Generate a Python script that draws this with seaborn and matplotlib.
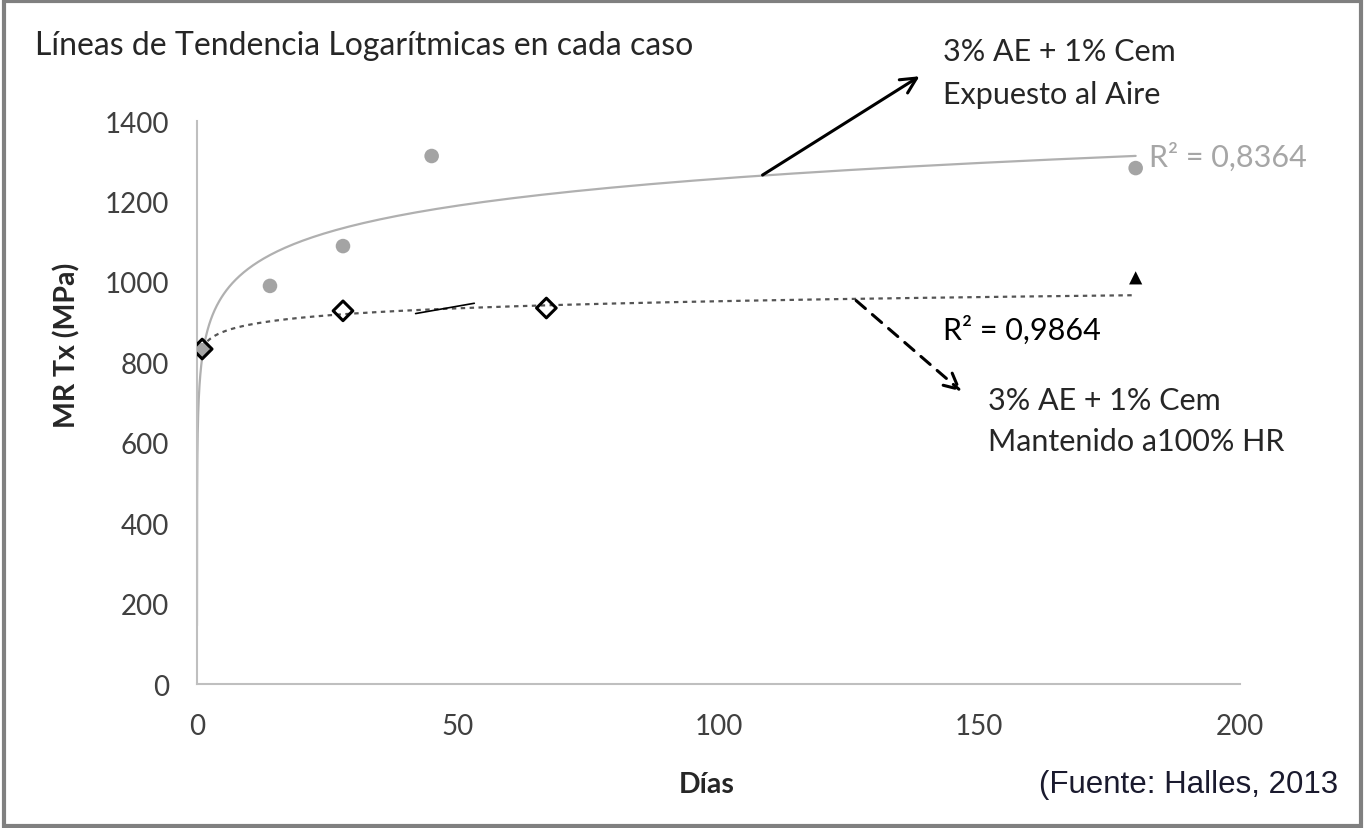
import numpy as np
import pandas as pd
import seaborn as sns
import matplotlib.pyplot as plt
from matplotlib.patches import Rectangle

# air-exposed series (grey circles)
dias_aire = [1, 14, 28, 45, 180]
mr_aire = [830, 990, 1089, 1313, 1283]
# 100% HR series (open diamonds)
dias_hr = [1, 28, 67]
mr_hr = [833, 928, 935]
# single triangle at 180 days
dias_tri = [180]
mr_tri = [1010]

x_ticks = [0, 50, 100, 150, 200]
y_ticks = [0, 200, 400, 600, 800, 1000, 1200, 1400]

sns.set_style("white")
plt.rcParams['font.family'] = ['Lato', 'DejaVu Sans']

fig = plt.figure(figsize=(13.65, 8.29), dpi=100)
ax = fig.add_axes([0.1443, 0.1737, 0.9084 - 0.1443, 0.8528 - 0.1737])

grey = '#a6a6a6'

# log trend lines fitted on the data
a1, b1 = np.polyfit(np.log(dias_aire), mr_aire, 1)
xg = np.geomspace(0.001, 180, 400)
sns.lineplot(x=xg, y=a1 * np.log(xg) + b1, ax=ax, color='#b0b0b0', lw=1.6, zorder=2)

a2, b2 = np.polyfit(np.log(dias_hr), mr_hr, 1)
xh = np.geomspace(1, 180, 300)
sns.lineplot(x=xh, y=a2 * np.log(xh) + b2, ax=ax, color='#555555', lw=1.6,
             linestyle=(0, (2, 2)), zorder=2)

sns.scatterplot(x=dias_aire, y=mr_aire, ax=ax, color='#a4a4a4', s=110,
                edgecolor='none', zorder=3)
sns.scatterplot(x=dias_hr, y=mr_hr, ax=ax, marker='D', s=100, facecolor='none',
                edgecolor='black', linewidth=2.2, zorder=4)
sns.scatterplot(x=dias_tri, y=mr_tri, ax=ax, marker='^', s=90, color='black',
                edgecolor='none', zorder=4)

ax.set_xlim(0, 200)
ax.set_ylim(0, 1400)
ax.set_xticks(x_ticks)
ax.set_yticks(y_ticks)
ax.tick_params(labelsize=20, length=0, colors='#404040')
ax.tick_params(axis='x', pad=21)
ax.tick_params(axis='y', pad=20)
for s in ['top', 'right']:
    ax.spines[s].set_visible(False)
for s in ['left', 'bottom']:
    ax.spines[s].set_color('#bfbfbf')
    ax.spines[s].set_linewidth(1.5)

ax.set_xlabel('Días', fontsize=20.5, fontweight='bold')
ax.set_ylabel('MR Tx (MPa)', fontsize=20.5, fontweight='bold')
ax.xaxis.set_label_coords(0.489, -0.155)
ax.yaxis.set_label_coords(-0.112, 0.604)

# annotations
ax.annotate('', xy=(139, 1515), xytext=(108, 1262),
            arrowprops=dict(arrowstyle='->', color='black', lw=2.2,
                            mutation_scale=28), annotation_clip=False)
ax.annotate('', xy=(147, 723), xytext=(126, 958),
            arrowprops=dict(arrowstyle='->', color='black', lw=2.2,
                            linestyle=(0, (4, 3)), mutation_scale=28),
            annotation_clip=False)
ax.annotate('', xy=(53.7, 948), xytext=(41.4, 920),
            arrowprops=dict(arrowstyle='-', color='black', lw=1.2))

ax.text(182.5, 1312, 'R² = 0,8364', fontsize=22, color=grey, va='center', ha='left')
ax.text(143, 883, 'R² = 0,9864', fontsize=22, color='black', va='center')
fig.text(0.691, 0.911, '3% AE + 1% Cem\nExpuesto al Aire', fontsize=22,
         va='center', ha='left', linespacing=1.65)
fig.text(0.724, 0.4916, '3% AE + 1% Cem\nMantenido a100% HR', fontsize=22,
         va='center', ha='left', linespacing=1.55)
fig.text(0.026, 0.945, 'Líneas de Tendencia Logarítmicas en cada caso',
         fontsize=23, va='center', ha='left')
fig.text(0.9803, 0.053, '(Fuente: Halles, 2013', fontsize=22.5,
         family=['Liberation Sans', 'DejaVu Sans'],
         va='center', ha='right', color='#1a1a2e')

fig.patches.append(Rectangle((0.003, 0.003), 0.994, 0.994, transform=fig.transFigure,
                             fill=False, edgecolor='#808080', lw=3))

fig.savefig('out.png', dpi=100)
